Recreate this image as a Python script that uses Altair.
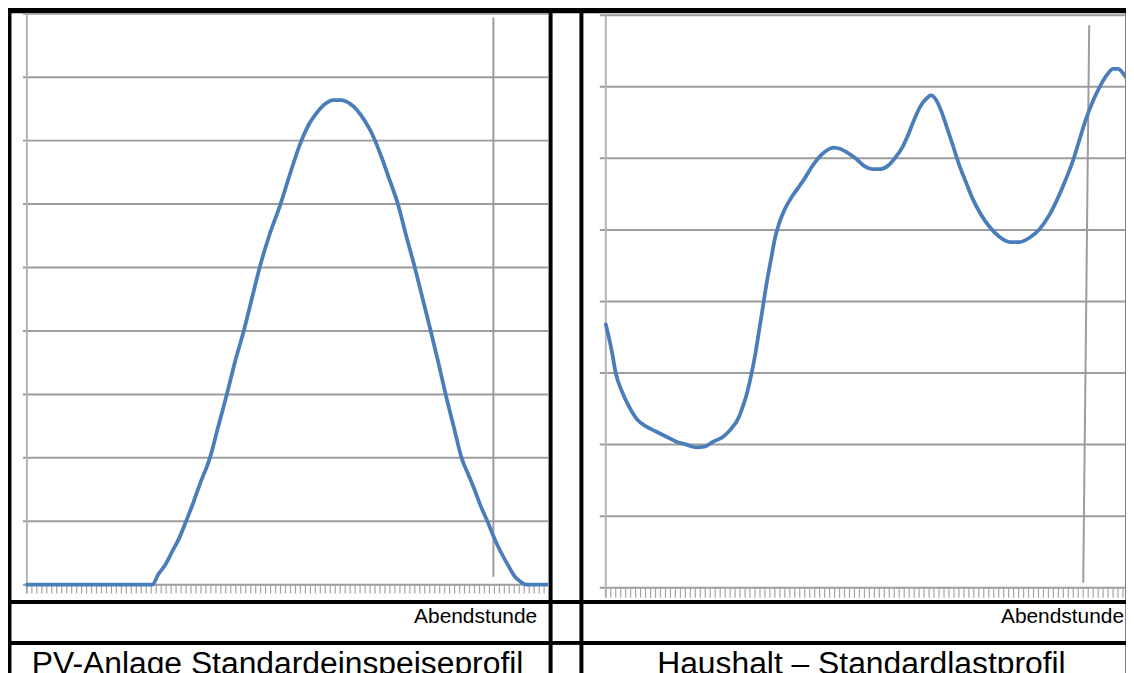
import altair as alt
import pandas as pd
import numpy as np

# ---------------- data ----------------
# Left: PV-Anlage Standardeinspeiseprofil (x = time slot, y = grid units)
pv_slot = [0, 25.2, 26.4, 27.8, 29.2, 30.6, 32.0, 33.4, 34.8, 36.8, 38.4, 40.2, 41.8,
           43.6, 45.2, 46.8, 48.8, 51.0, 52.8, 55.2, 56.8, 58.4, 60.0, 61.6, 63.2,
           64.8, 66.4, 67.8, 69.2, 70.0, 71.4, 72.8, 74.6, 76.2, 78.0, 79.6, 81.2,
           82.8, 84.2, 85.8, 87.4, 88.8, 90.0, 91.2, 92.6, 94.0, 95.4, 96.8, 98.0,
           99.2, 100.4, 104.8]
pv_value = [0, 0, 0.16, 0.31, 0.52, 0.73, 1.00, 1.28, 1.59, 2.00, 2.47, 3.00, 3.50,
            4.00, 4.50, 5.00, 5.52, 6.00, 6.45, 7.00, 7.27, 7.45, 7.58, 7.64, 7.64,
            7.59, 7.48, 7.33, 7.14, 7.00, 6.72, 6.41, 6.00, 5.52, 5.00, 4.50, 4.00,
            3.48, 3.00, 2.50, 2.00, 1.73, 1.50, 1.25, 1.00, 0.73, 0.50, 0.30, 0.14,
            0.05, 0, 0]

# Right: Haushalt - Standardlastprofil
hh_slot = [0.0, 1.2, 2.0, 3.2, 4.6, 6.2, 8.2, 10.2, 12.2, 14.2, 16.2, 18.2, 19.8,
           21.6, 23.6, 25.2, 26.6, 27.6, 28.4, 29.2, 30.0, 30.8, 31.6, 32.4, 33.2,
           34.0, 34.8, 36.0, 37.2, 38.6, 40.0, 41.4, 42.8, 44.2, 45.8, 47.2, 48.8,
           50.4, 52.0, 53.6, 55.2, 56.8, 58.2, 59.6, 60.8, 62.0, 63.2, 64.4, 65.4,
           66.4, 67.4, 68.6, 69.8, 71.0, 72.4, 73.8, 75.4, 77.2, 79.2, 81.2, 83.2,
           85.2, 87.2, 89.2, 90.8, 92.4, 93.8, 95.2, 96.6, 98.0, 99.4, 100.8, 102.0,
           103.0, 104.2, 105.2, 106.4]
hh_value = [3.68, 3.31, 3.00, 2.75, 2.54, 2.36, 2.25, 2.18, 2.11, 2.04, 2.00, 1.96,
            1.97, 2.04, 2.11, 2.22, 2.36, 2.54, 2.72, 2.96, 3.24, 3.58, 3.93, 4.28,
            4.58, 4.88, 5.08, 5.29, 5.44, 5.58, 5.72, 5.88, 6.01, 6.10, 6.15, 6.13,
            6.07, 5.99, 5.89, 5.85, 5.85, 5.90, 6.01, 6.15, 6.33, 6.54, 6.72, 6.83,
            6.88, 6.82, 6.67, 6.43, 6.18, 5.92, 5.67, 5.43, 5.22, 5.04, 4.90, 4.83,
            4.83, 4.89, 5.01, 5.21, 5.43, 5.69, 5.94, 6.25, 6.56, 6.81, 7.01, 7.17,
            7.25, 7.25, 7.17, 7.06, 6.88]

pv_grid = [0, 1, 2, 3, 4, 5, 6, 7, 8, 9]
hh_grid = [0, 1, 2, 3, 4, 5, 6, 7, 8]

# "Abendstunde" marker lines (bottom point, top point)
pv_marker = {"x": [93.8], "y": [0.125], "x2": [93.8], "y2": [8.94]}
hh_marker = {"x": [96.0], "y": [0.07], "x2": [97.2], "y2": [7.86]}

label_evening = "Abendstunde"
title_pv = "PV-Anlage Standardeinspeiseprofil"
title_hh = "Haushalt \u2013 Standardlastprofil"

# ---------------- styles ----------------
FONT = "Liberation Sans"
BLUE = "#4a7ebb"
GRID = "#9c9c9c"
AXIS = "#b4b4b4"
TICK = "#a6a6a6"

COL_W = [540, 27, 545]
ROW_H = [590, 37, 32]
SP = 2


def panel(slots, values, grid_vals, n_ticks, marker, xdom, ydom, w, h, grid_x0, ytop):
    xs = alt.Scale(domain=xdom, nice=False, zero=False)
    ys = alt.Scale(domain=ydom, nice=False, zero=False)

    def X(f):
        return alt.X(f, type="quantitative", scale=xs, axis=None)

    def Y(f):
        return alt.Y(f, type="quantitative", scale=ys, axis=None)

    grid_df = pd.DataFrame({"u": grid_vals,
                            "x0": [grid_x0] * len(grid_vals),
                            "x1": [xdom[1]] * len(grid_vals)})
    grid = alt.Chart(grid_df).mark_rule(color=GRID, strokeWidth=2, clip=True).encode(
        x=X("x0"), x2="x1:Q", y=Y("u"))

    yaxis_df = pd.DataFrame({"s": [0], "y0": [-0.14], "y1": [ytop]})
    yaxis = alt.Chart(yaxis_df).mark_rule(color=AXIS, strokeWidth=2, clip=True).encode(
        x=X("s"), y=Y("y0"), y2="y1:Q")

    tick_s = np.arange(0, n_ticks + 1)
    tick_df = pd.DataFrame({"s": tick_s, "y0": 0.0, "y1": -0.14})
    ticks = alt.Chart(tick_df).mark_rule(color=TICK, strokeWidth=1.2, clip=True).encode(
        x=X("s"), y=Y("y0"), y2="y1:Q")

    mk = alt.Chart(pd.DataFrame(marker)).mark_rule(color=GRID, strokeWidth=2, clip=True).encode(
        x=X("x"), y=Y("y"), x2="x2:Q", y2="y2:Q")

    curve_df = pd.DataFrame({"slot": slots, "value": values})
    curve = alt.Chart(curve_df).mark_line(
        color=BLUE, strokeWidth=3.8, interpolate="monotone", clip=True,
        strokeCap="round", strokeJoin="round").encode(x=X("slot"), y=Y("value"))

    return alt.layer(grid, yaxis, ticks, mk, curve).properties(width=w, height=h)


def text_cell(label, w, h, x, y, size, align):
    return alt.Chart(pd.DataFrame({"t": [label]})).mark_text(
        align=align, baseline="alphabetic", fontSize=size, font=FONT,
        color="black", clip=True).encode(
        text="t:N", x=alt.value(x), y=alt.value(y)).properties(width=w, height=h)


def empty_cell(w, h):
    return alt.Chart(pd.DataFrame({"t": [""]})).mark_text(clip=True, fontSize=1).encode(
        text="t:N", x=alt.value(w / 2), y=alt.value(h / 2)).properties(width=w, height=h)


# left: axis at 16px, 5px per slot; zero at 575px, top gridline at 1px
left = panel(pv_slot, pv_value, pv_grid, 104, pv_marker,
             xdom=[-3.2, 104.8], ydom=[-15 / 63.78, 575 / 63.78],
             w=COL_W[0], h=ROW_H[0], grid_x0=-0.8, ytop=9)
# right: axis at 23px, 5px per slot; zero at 578px, top gridline at 2.5px
right = panel(hh_slot, hh_value, hh_grid, 104, hh_marker,
              xdom=[-4.6, (COL_W[2] - 23) / 5], ydom=[-12 / 71.94, 578 / 71.94],
              w=COL_W[2], h=ROW_H[0], grid_x0=-1.2, ytop=8)

row1 = alt.hconcat(left, empty_cell(COL_W[1], ROW_H[0]), right, spacing=SP)
row2 = alt.hconcat(
    text_cell(label_evening, COL_W[0], ROW_H[1], COL_W[0] - 11, 20, 21, "right"),
    empty_cell(COL_W[1], ROW_H[1]),
    text_cell(label_evening, COL_W[2], ROW_H[1], COL_W[2] - 1, 20, 21, "right"),
    spacing=SP)
row3 = alt.hconcat(
    text_cell(title_pv, COL_W[0], ROW_H[2], 268, 30, 32, "center"),
    empty_cell(COL_W[1], ROW_H[2]),
    text_cell(title_hh, COL_W[2], ROW_H[2], 280, 30, 32, "center"),
    spacing=SP)

chart = alt.vconcat(row1, row2, row3, spacing=SP).properties(
    background="black",
    padding={"left": 2, "top": 2, "right": 0, "bottom": 0},
).configure_view(fill="white", stroke="transparent")

chart.save("out.html", embed_options={"renderer": "svg", "actions": False})
